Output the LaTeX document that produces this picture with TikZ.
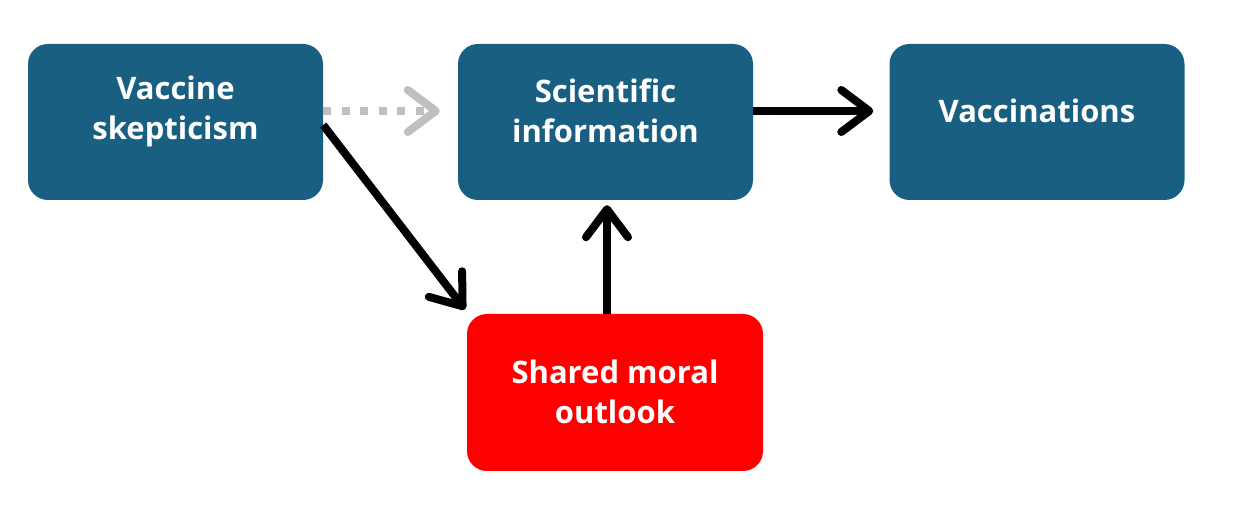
\documentclass[tikz,border=0pt]{standalone}
\usepackage{fontspec}
\setmainfont{Open Sans}
\usetikzlibrary{arrows.meta}
\definecolor{boxblue}{HTML}{185F82}
\definecolor{boxred}{HTML}{FF0000}
\definecolor{dotgray}{HTML}{BFBFBF}
\begin{document}
\begin{tikzpicture}[x=1pt,y=1pt,
  box/.style={draw=none, rounded corners=20pt, minimum width=295pt, minimum height=156pt, inner sep=0pt},
  boxtext/.style={text=white, font=\fontsize{31}{40}\selectfont\bfseries, align=center, inner sep=0pt},
  conn/.style={line width=8pt, -{Straight Barb[length=28pt,width=42pt,line cap=round,line join=round]}},
]
\useasboundingbox (0,0) rectangle (1244,508);
\node[box, fill=boxblue] (sk) at (175.5,386) {};
\node[box, fill=boxblue] (si) at (605.5,386) {};
\node[box, fill=boxblue] (va) at (1037,386) {};
\node[box, fill=boxred, minimum width=296pt, minimum height=157pt] (sm) at (615,115.5) {};
\node[boxtext] (skT) at ([yshift=11pt]sk.center) {Vaccine\\skepticism};
\node[boxtext] (siT) at ([yshift=11pt]si.center) {Scientific\\information};
\node[boxtext] (vaT) at ([yshift=11pt]va.center) {Vaccinations};
\node[boxtext] (smT) at ([yshift=1pt]sm.center) {Shared moral\\outlook};
\draw[conn, draw=dotgray, dash pattern=on 8pt off 10.5pt, shorten >=18pt]
  ([yshift=11pt]sk.east) -- ([yshift=11pt]si.west);
\draw[conn, shorten >=16pt] ([yshift=11pt]si.east) -- ([yshift=11pt]va.west);
\draw[conn, shorten >=3pt] ([yshift=-3pt]sk.east) -- ([yshift=2pt]sm.north west);
\draw[conn, shorten >=5pt] ([xshift=-8pt]sm.north) -- ([xshift=1.5pt]si.south);
\end{tikzpicture}
\end{document}
